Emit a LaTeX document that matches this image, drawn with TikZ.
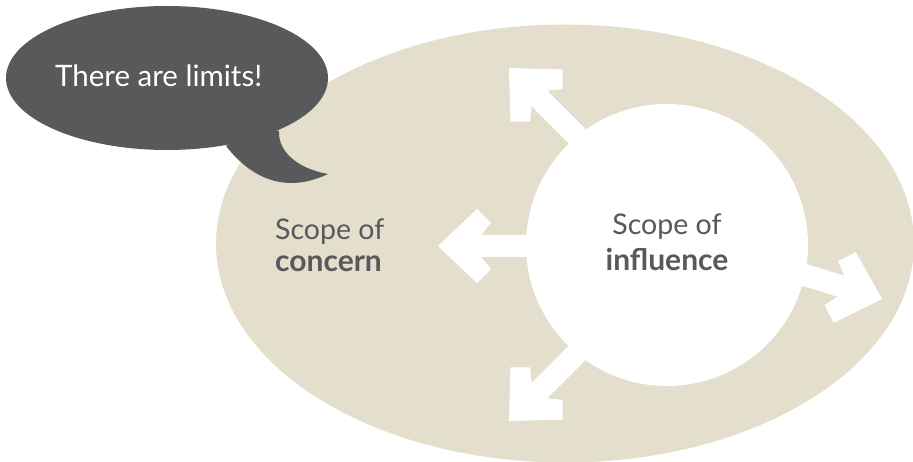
\documentclass[tikz,border=0pt]{standalone}
\usepackage{fontspec}
\setmainfont{Lato}
\usetikzlibrary{shapes.geometric}
\definecolor{beige}{HTML}{E3DFCC}
\definecolor{slate}{HTML}{58595B}
\tikzset{
  chev/.pic={\fill[white] (0,0) -- (-39,37) -- (-53,23) -- (-43,11) -- (-112,11) -- (-112,-11) -- (-43,-11) -- (-53,-23) -- (-39,-37) -- cycle;},
  lbl/.style={text=slate, inner sep=0pt, font=\fontsize{28.5}{34}\selectfont},
  bold/.style={text=slate, inner sep=0pt, font=\fontsize{30}{36}\selectfont\bfseries},
}
\begin{document}
\begin{tikzpicture}[x=1pt,y=-1pt]
\useasboundingbox (0,0) rectangle (913,462);
% scope of concern
\node[ellipse, fill=beige, inner sep=0pt, minimum width=698pt, minimum height=438pt] (concern) at (565,243.5) {};
% arrows
\pic (aleft) [rotate=180] at (438,246) {chev};
\pic (aul) [rotate=135] at (509,68) {chev};
\pic (adl) [rotate=225] at (509,421) {chev};
\pic (aright) [rotate=-17.3] at (882,299) {chev};
% scope of influence
\node[circle, fill=white, inner sep=0pt, minimum size=282pt] (influence) at (667,245) {};
% speech bubble
\fill[slate] (226,146) .. controls (255,183) and (290,192) .. (328,174) .. controls (295,168) and (278,150) .. (279,131) -- (250,131) -- cycle;
\node[ellipse, fill=slate, inner sep=0pt, minimum width=322pt, minimum height=144pt] (bubble) at (167,78) {};
\node[lbl, text=white, anchor=base west, font=\fontsize{29.5}{35}\selectfont] (limits) at (55,87) {There are limits!};
% labels
\node[lbl, anchor=base west] (c1) at (275,240) {Scope of};
\node[bold, anchor=base west] (c2) at (275,272) {concern};
\node[lbl, anchor=base] (i1) at (667,235) {Scope of};
\node[bold, anchor=base] (i2) at (667,271) {influence};
\end{tikzpicture}
\end{document}
